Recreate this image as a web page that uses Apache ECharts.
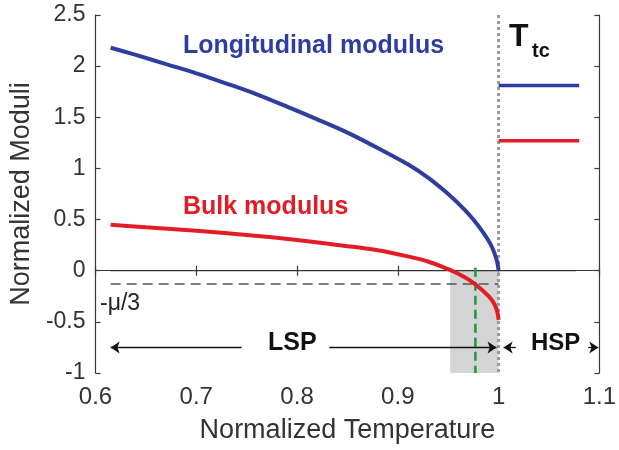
<!DOCTYPE html>
<html>
<head>
<meta charset="utf-8">
<script src="https://cdn.jsdelivr.net/npm/echarts@6/dist/echarts.min.js"></script>
<style>
  html, body { margin: 0; padding: 0; background: #fff; }
  #chart { width: 619px; height: 450px; }
</style>
</head>
<body>
<div id="chart"></div>
<script>
// values
const tempLong = [0.615, 0.64, 0.67, 0.70, 0.73, 0.76, 0.79, 0.82, 0.85, 0.88, 0.91, 0.93, 0.95, 0.965, 0.975, 0.985, 0.992, 0.996, 0.999, 1.0];
const longMod = [2.18, 2.11, 2.02, 1.93, 1.83, 1.725, 1.605, 1.48, 1.35, 1.20, 1.04, 0.91, 0.75, 0.61, 0.50, 0.37, 0.26, 0.17, 0.07, 0.0];
const tempBulk = [0.615, 0.65, 0.70, 0.75, 0.80, 0.85, 0.88, 0.91, 0.93, 0.95, 0.96, 0.97, 0.977, 0.985, 0.992, 0.996, 0.999, 1.0];
const bulkMod = [0.45, 0.425, 0.39, 0.35, 0.30, 0.24, 0.20, 0.14, 0.09, 0.015, -0.03, -0.085, -0.135, -0.20, -0.27, -0.33, -0.41, -0.48];
const hspRange = [1.0, 1.08];
const hspLong = 1.81;
const hspBulk = 1.27;
const zeroRange = [0.615, 1.077];
const muRange = [0.615, 1.0];
const muLevel = -0.13;
const transT = 1.0;
const crossT = 0.977;
const shadeRange = [0.952, 1.0];
const arrowY = -0.75;
const lspArrows = [[0.745, 0.615], [0.832, 0.998]];
const hspArrows = [[1.017, 1.005], [1.089, 1.099]];
const xTicks = ['0.6', '0.7', '0.8', '0.9', '1', '1.1'];
const yTicks = ['-1', '-0.5', '0', '0.5', '1', '1.5', '2', '2.5'];

const FONT = '"Liberation Sans", Arial, Helvetica, sans-serif';
const BLUE = '#2f3d9f';
const RED = '#e31d25';

const chart = echarts.init(document.getElementById('chart'));

const zip = (xs, ys) => xs.map((x, i) => [x, ys[i]]);
const xLabel = v => xTicks[Math.round((v - 0.6) * 10)];
const yLabel = v => yTicks[Math.round((v + 1) * 2)];

const axisLine = { show: true, lineStyle: { color: '#3a3a3a', width: 1.2 } };
const tickIn = { show: true, inside: true, length: 5, lineStyle: { color: '#3a3a3a', width: 1.2 } };

const arrowLines = lspArrows.concat(hspArrows).map(a => [
  { coord: [a[0], arrowY] },
  { coord: [a[1], arrowY] }
]);

const option = {
  animation: false,
  grid: { left: 93, right: 16, top: 15, bottom: 77 },
  xAxis: [
    {
      type: 'value', min: 0.6, max: 1.1, interval: 0.1,
      axisLine, axisTick: tickIn, splitLine: { show: false },
      axisLabel: { formatter: xLabel, color: '#333', fontSize: 24, fontFamily: FONT, margin: 12 },
      name: 'Normalized Temperature', nameLocation: 'middle', nameGap: 44,
      nameTextStyle: { color: '#333', fontSize: 27, fontFamily: FONT }
    },
    {
      type: 'value', position: 'top', min: 0.6, max: 1.1, interval: 0.1,
      axisLine, axisTick: tickIn, axisLabel: { show: false }, splitLine: { show: false }
    }
  ],
  yAxis: [
    {
      type: 'value', min: -1, max: 2.5, interval: 0.5,
      axisLine, axisTick: tickIn, splitLine: { show: false },
      axisLabel: { formatter: yLabel, color: '#333', fontSize: 23, fontFamily: FONT, margin: 10 },
      name: 'Normalized Moduli', nameLocation: 'middle', nameGap: 58,
      nameTextStyle: { color: '#333', fontSize: 27, fontFamily: FONT }
    },
    {
      type: 'value', position: 'right', min: -1, max: 2.5, interval: 0.5,
      axisLine, axisTick: tickIn, axisLabel: { show: false }, splitLine: { show: false }
    }
  ],
  series: [
    {
      name: 'shade', type: 'line', data: [], z: 1,
      markArea: {
        silent: true,
        itemStyle: { color: '#d4d4d4' },
        data: [[{ coord: [shadeRange[0], 0] }, { coord: [shadeRange[1], -1] }]]
      },
      markLine: {
        silent: true,
        symbol: ['none', 'arrow'],
        symbolSize: 9,
        label: { show: false },
        lineStyle: { color: '#111', width: 1.3, type: 'solid' },
        data: arrowLines
      }
    },
    {
      name: 'zero', type: 'line', showSymbol: false, z: 2,
      data: [[zeroRange[0], 0], [zeroRange[1], 0]],
      lineStyle: { color: '#333', width: 1.2 }
    },
    {
      name: 'mu', type: 'line', showSymbol: false, z: 2,
      data: [[muRange[0], muLevel], [muRange[1], muLevel]],
      lineStyle: { color: '#555', width: 1.4, type: [10, 6] }
    },
    {
      name: 'Tc', type: 'line', showSymbol: false, z: 3,
      data: [[transT, 2.5], [transT, -1]],
      lineStyle: { color: '#9a9a9a', width: 3, type: [3, 3] }
    },
    {
      name: 'cross', type: 'line', showSymbol: false, z: 4,
      data: [[crossT, 0.03], [crossT, -1]],
      lineStyle: { color: '#1f9a3c', width: 2.6, type: [9, 5] }
    },
    {
      name: 'Longitudinal modulus', type: 'line', showSymbol: false, z: 5,
      smooth: 0.3,
      data: zip(tempLong, longMod),
      lineStyle: { color: BLUE, width: 4 }
    },
    {
      name: 'Bulk modulus', type: 'line', showSymbol: false, z: 5,
      smooth: 0.3,
      data: zip(tempBulk, bulkMod),
      lineStyle: { color: RED, width: 4 }
    },
    {
      name: 'HSP longitudinal', type: 'line', showSymbol: false, z: 5,
      data: [[hspRange[0], hspLong], [hspRange[1], hspLong]],
      lineStyle: { color: BLUE, width: 3.5 }
    },
    {
      name: 'HSP bulk', type: 'line', showSymbol: false, z: 5,
      data: [[hspRange[0], hspBulk], [hspRange[1], hspBulk]],
      lineStyle: { color: RED, width: 3.5 }
    }
  ],
  graphic: [
    { type: 'text', left: 183, top: 34, style: { text: 'Longitudinal modulus', fill: BLUE, font: 'bold 25px ' + FONT } },
    { type: 'text', left: 183, top: 195, style: { text: 'Bulk modulus', fill: RED, font: 'bold 25px ' + FONT } },
    { type: 'text', left: 509, top: 21, style: { text: 'T', fill: '#111', font: 'bold 32px ' + FONT } },
    { type: 'text', left: 532, top: 41, style: { text: 'tc', fill: '#111', font: 'bold 20px ' + FONT } },
    { type: 'text', left: 100, top: 292, style: { text: '-μ/3', fill: '#222', font: '23px ' + FONT } },
    { type: 'text', left: 268, top: 331, style: { text: 'LSP', fill: '#111', font: 'bold 25px ' + FONT } },
    { type: 'text', left: 531, top: 331, style: { text: 'HSP', fill: '#111', font: 'bold 24px ' + FONT } }
  ]
};

chart.setOption(option);
</script>
</body>
</html>
